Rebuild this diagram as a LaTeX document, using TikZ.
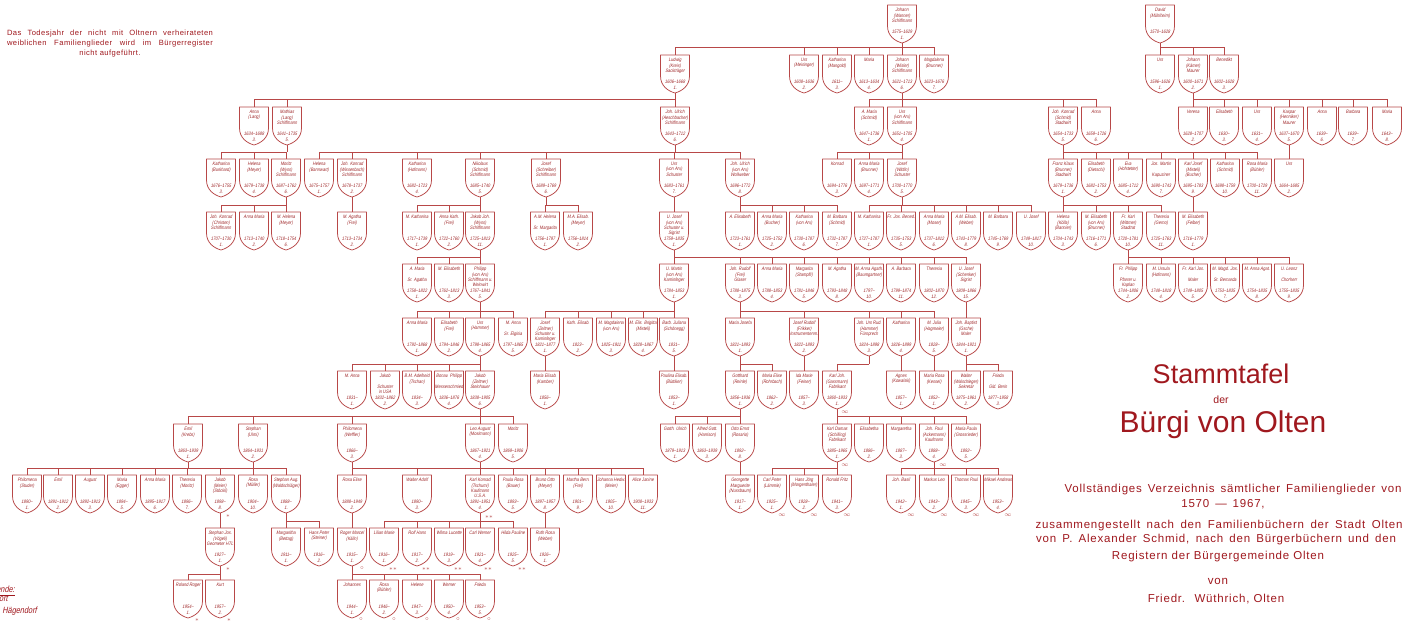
\documentclass[tikz,border=0pt]{standalone}
\usepackage{fontspec}
\setmainfont{Liberation Sans}
\newfontfamily\hand[FakeSlant=0.2,FakeStretch=0.82]{Liberation Sans}
\newfontfamily\lettered[LetterSpace=7]{Liberation Sans}
\newfontfamily\notefont[LetterSpace=6]{Liberation Sans}
\definecolor{tree}{RGB}{184,72,72}
\definecolor{ink}{RGB}{160,40,42}
\definecolor{ttlred}{RGB}{160,24,30}
\tikzset{
 shieldbox/.style={minimum width=29pt,minimum height=38pt,inner sep=0pt,outer sep=0pt,anchor=north},
 shieldline/.style={draw=tree,line width=0.75pt,line join=round},
 conn/.style={draw=tree,line width=0.75pt},
 shtext/.style={inner sep=0pt,text=ink,align=center,font=\hand\fontsize{4.9}{5.4}\selectfont},
 sym/.style={inner sep=0pt,text=tree,font=\fontsize{6}{6}\selectfont},
 body/.style={inner sep=0pt,text=ttlred,anchor=base,font=\lettered\fontsize{11.5}{12}\selectfont},
 note/.style={inner sep=0pt,text=ttlred,anchor=base,font=\notefont\fontsize{7.6}{8}\selectfont},
 legend/.style={inner sep=0pt,text=ttlred,anchor=base east,font=\hand\fontsize{9}{10}\selectfont},
}
\newcommand\shd[6]{%
 \node[shieldbox] (#1) at (#2,#3) {};
 \draw[shieldline] (#2-14.5,#3) -- (#2+14.5,#3) -- (#2+14.5,#3+21) .. controls (#2+14.5,#3+31) and (#2+7,#3+36) .. (#2,#3+38) .. controls (#2-7,#3+36) and (#2-14.5,#3+31) .. (#2-14.5,#3+21) -- cycle;
 \node[shtext,anchor=north] (#1-t) at (#2,#3+3) {#4};
 \node[shtext] (#1-d) at (#2,#3+26.5) {#5};
 \node[shtext] (#1-n) at (#2,#3+33) {#6};
}
\newcommand\kids[5]{%
 \draw[conn] (#1.south) -- (#1.south |- 0,#2);
 \draw[conn] (#3.north |- 0,#2) -- (#4.north |- 0,#2);
 \foreach \ch in {#5} {\draw[conn] (\ch.north) -- (\ch.north |- 0,#2);}
}
\newcommand\lnk[2]{\draw[conn] (#1.south) -- (#2.north);}
\begin{document}
\begin{tikzpicture}[x=1pt,y=-1pt]
\useasboundingbox (0,0) rectangle (1413,624);
\clip (0,0) rectangle (1413,624);
\fill[white] (0,0) rectangle (1413,624);
% ---------- row 0
\shd{jo0}{902}{5}{Johann\\(Wanner)\\Schiffmann}{1575–1629}{1.}
\shd{da0}{1160}{5}{David\\(Mühlheim)}{1570–1628}{}
% ---------- row 1
\shd{lu1}{675}{55}{Ludwig\\(Kreis)\\Sackträger}{1606–1668}{1.}
\shd{ur1}{804}{55}{Urs\\(Meisinger)}{1608–1636}{2.}
\shd{ka1}{837}{55}{Katharina\\(Mangold)}{1611–}{3.}
\shd{ma1}{869}{55}{Maria}{1613–1634}{4.}
\shd{jo1}{902}{55}{Johann\\(Wisler)\\Schiffmann}{1621–1713}{6.}
\shd{mg1}{934}{55}{Magdalena\\(Brunner)}{1623–1676}{7.}
\shd{urr1}{1160}{55}{Urs}{1596–1626}{1.}
\shd{jok1}{1193}{55}{Johann\\(Kämer)\\Maurer}{1600–1671}{2.}
\shd{be1}{1224}{55}{Benedikt}{1602–1628}{3.}
% ---------- row 2
\shd{an2}{254}{107}{Anna\\(Lang)}{1634–1688}{3.}
\shd{mt2}{287}{107}{Mathias\\(Lang)\\Schiffmann}{1641–1735}{5.}
\shd{ju2}{675}{107}{Joh. Ulrich\\(Aeschbacher)\\Schiffmann}{1643–1712}{6.}
\shd{am2}{869}{107}{A. Maria\\(Schmid)}{1647–1736}{1.}
\shd{ur2}{902}{107}{Urs\\(von Arx)\\Schiffmann}{1651–1705}{4.}
\shd{jk2}{1063}{107}{Joh. Konrad\\(Schmid)\\Stadtwirt}{1654–1733}{5.}
\shd{an2b}{1096}{107}{Anna}{1659–1726}{6.}
\shd{ve2}{1193}{107}{Verena}{1628–1707}{2.}
\shd{el2}{1224}{107}{Elisabeth}{1630–}{3.}
\shd{ur2b}{1257}{107}{Urs}{1631–}{4.}
\shd{ks2}{1289}{107}{Kaspar\\(Henniker)\\Maurer}{1637–1670}{5.}
\shd{an2c}{1322}{107}{Anna}{1639–}{6.}
\shd{ba2}{1353}{107}{Barbara}{1639–}{7.}
\shd{ma2}{1387}{107}{Maria}{1643–}{8.}
% ---------- row 3
\shd{ka3}{221}{159}{Katharina\\(Burkhard)}{1676–1755}{3.}
\shd{he3}{254}{159}{Helena\\(Meyer)}{1679–1738}{4.}
\shd{mo3}{286}{159}{Moritz\\(Wyss)\\Schiffmann}{1687–1762}{6.}
\shd{hb3}{319}{159}{Helena\\(Bannwart)}{1675–1757}{1.}
\shd{jk3}{352}{159}{Joh. Konrad\\(Wissenbach)\\Schiffmann}{1678–1737}{2.}
\shd{kh3}{417}{159}{Katharina\\(Hofmann)}{1682–1723}{4.}
\shd{ni3}{480}{159}{Nikolaus\\(Schmid)\\Schiffmann}{1685–1740}{5.}
\shd{js3}{546}{159}{Josef\\(Schreiber)\\Schiffmann}{1689–1769}{6.}
\shd{ua3}{674}{159}{Urs\\(von Arx)\\Schuster}{1683–1761}{7.}
\shd{ju3}{740}{159}{Joh. Ulrich\\(von Arx)\\Wollweber}{1696–1772}{8.}
\shd{ko3}{837}{159}{Konrad}{1694–1776}{3.}
\shd{am3}{869}{159}{Anna Maria\\(Brunner)}{1697–1771}{4.}
\shd{jw3}{902}{159}{Josef\\(Wittlin)\\Schuster}{1700–1770}{5.}
\shd{fk3}{1063}{159}{Franz Klaus\\(Brunner)\\Stadtwirt}{1679–1736}{1.}
\shd{ed3}{1096}{159}{Elisabeth\\(Dietschi)}{1682–1753}{2.}
\shd{ev3}{1128}{159}{Eva\\(Hofstetter)}{1685–1712}{4.}
\shd{jm3}{1161}{159}{Jos. Martin\\ \\Kapuziner}{1690–1743}{7.}
\shd{kj3}{1193}{159}{Karl Josef\\(Misteli)\\(Bucher)}{1695–1783}{9.}
\shd{ks3}{1225}{159}{Katharina\\(Schmid)}{1698–1759}{10.}
\shd{rm3}{1257}{159}{Rosa Maria\\(Bühler)}{1700–1729}{11.}
\shd{ur3}{1289}{159}{Urs}{1664–1685}{2.}
% ---------- row 4
\shd{jk4}{221}{212}{Joh. Konrad\\(Christen)\\Schiffmann}{1707–1730}{1.}
\shd{am4}{254}{212}{Anna Maria}{1713–1740}{2.}
\shd{mh4}{286}{212}{M. Helena\\(Meyer)}{1718–1754}{6.}
\shd{ma4}{352}{212}{M. Agatha\\(Frei)}{1713–1734}{2.}
\shd{mk4}{417}{212}{M. Katharina}{1717–1739}{1.}
\shd{ak4}{449}{212}{Anna Kath.\\(Frei)}{1722–1760}{2.}
\shd{jj4}{480}{212}{Jakob Joh.\\(Wyss)\\Schiffmann}{1725–1813}{11.}
\shd{ah4}{545}{212}{A.M. Helena\\ \\Sr. Margarita}{1756–1797}{1.}
\shd{me4}{578}{212}{M.A. Elisab.\\(Meyer)}{1756–1814}{2.}
\shd{uj4}{674}{212}{U. Josef\\(von Arx)\\Schuster u.\\Sigrist}{1759–1835}{1.}
\shd{ae4}{740}{212}{A. Elisabeth}{1723–1761}{1.}
\shd{an4}{772}{212}{Anna Maria\\(Bucher)}{1725–1752}{2.}
\shd{ka4}{804}{212}{Katharina\\(von Arx)}{1730–1787}{6.}
\shd{mb4}{837}{212}{M. Barbara\\(Schmid)}{1732–1787}{7.}
\shd{mk4b}{869}{212}{M. Katharina}{1727–1787}{1.}
\shd{fj4}{901}{212}{Fr. Jos. Bened.}{1735–1753}{5.}
\shd{ao4}{934}{212}{Anna Maria\\(Moser)}{1737–1812}{6.}
\shd{aw4}{966}{212}{A.M. Elisab.\\(Weber)}{1743–1779}{8.}
\shd{mb4b}{998}{212}{M. Barbara}{1745–1769}{9.}
\shd{uj4b}{1031}{212}{U. Josef}{1749–1817}{10.}
\shd{hk4}{1063}{212}{Helena\\(Kölla)\\(Bannier)}{1704–1743}{3.}
\shd{mv4}{1096}{212}{M. Elisabeth\\(von Arx)\\(Brunner)}{1716–1771}{6.}
\shd{fr4}{1128}{212}{Fr. Karl\\(Wittmer)\\Stadtrat}{1720–1781}{10.}
\shd{tg4}{1161}{212}{Theresia\\(Gerno)}{1725–1763}{11.}
\shd{mf4}{1193}{212}{M. Elisabeth\\(Felber)}{1716–1779}{1.}
% ---------- row 5
\shd{as5}{417}{264}{A. Maria\\ \\Sr. Agatha}{1758–1822}{1.}
\shd{me5}{449}{264}{M. Elisabeth}{1762–1813}{3.}
\shd{ph5}{480}{264}{Philipp\\(von Arx)\\Schiffmann u.\\Weinwirt}{1767–1841}{5.}
\shd{um5}{674}{264}{U. Martin\\(von Arx)\\Kaminfeger}{1784–1853}{1.}
\shd{jr5}{740}{264}{Joh. Rudolf\\(Frei)\\Glaser}{1788–1875}{3.}
\shd{an5}{772}{264}{Anna Maria}{1788–1853}{4.}
\shd{mst5}{804}{264}{Margarita\\(Stampfli)}{1781–1846}{5.}
\shd{mag5}{837}{264}{M. Agatha}{1793–1848}{8.}
\shd{maa5}{869}{264}{M. Anna Agath.\\(Baumgartner)}{1797–}{10.}
\shd{ab5}{901}{264}{A. Barbara}{1799–1874}{11.}
\shd{th5}{934}{264}{Theresia}{1802–1870}{12.}
\shd{ujs5}{966}{264}{U. Josef\\(Schenker)\\Sigrist}{1809–1866}{15.}
\shd{fp5}{1128}{264}{Fr. Philipp\\ \\Pfarrer u.\\Kaplan}{1744–1806}{2.}
\shd{mu5}{1161}{264}{M. Ursula\\(Hofmann)}{1748–1818}{4.}
\shd{fkj5}{1193}{264}{Fr. Karl Jos.\\ \\Maler}{1749–1805}{5.}
\shd{mmg5}{1225}{264}{M. Magd. Jos.\\ \\Sr. Bernarda}{1753–1835}{7.}
\shd{mat5}{1257}{264}{M. Anna Agat.}{1754–1835}{8.}
\shd{ul5}{1289}{264}{U. Leonz\\ \\Chorherr}{1755–1835}{9.}
% ---------- row 6
\shd{am6}{417}{318}{Anna Maria}{1792–1868}{1.}
\shd{ef6}{449}{318}{Elisabeth\\(Frei)}{1794–1846}{2.}
\shd{uh6}{480}{318}{Urs\\(Hammer)}{1798–1865}{4.}
\shd{ma6}{513}{318}{M. Anna\\ \\Sr. Elgisia}{1797–1865}{5.}
\shd{jz6}{545}{318}{Josef\\(Zeltner)\\Schuster u.\\Kaminfeger}{1821–1877}{1.}
\shd{ke6}{578}{318}{Kath. Elisab.}{1823–}{2.}
\shd{mm6}{611}{318}{M. Magdalena\\(von Arx)}{1825–1911}{3.}
\shd{mb6}{643}{318}{M. Elis. Brigitta\\(Misteli)}{1828–1867}{4.}
\shd{bj6}{674}{318}{Barb. Juliana\\(Schönegg)}{1831–}{5.}
\shd{mj6}{740}{318}{Maria Josefa}{1821–1893}{1.}
\shd{jrf6}{804}{318}{Josef Rudolf\\(Frikker)\\Instrumentenm.}{1822–1893}{2.}
\shd{jur6}{869}{318}{Joh. Urs Rud.\\(Hammer)\\Fürsprech}{1824–1898}{3.}
\shd{kt6}{901}{318}{Katharina}{1826–1899}{4.}
\shd{mjh6}{934}{318}{M. Julia\\(Hagmeier)}{1828–}{5.}
\shd{jb6}{966}{318}{Joh. Baptist\\(Gsche)\\Maler}{1844–1921}{1.}
% ---------- row 7
\shd{man7}{352}{371}{M. Anna}{1831–}{1.}
\shd{jk7}{385}{371}{Jakob\\ \\Schuster\\in USA}{1832–1862}{2.}
\shd{bma7}{417}{371}{B.M. Adelheid\\(Tschan)}{1834–}{3.}
\shd{bp7}{449}{371}{Bonav. Philipp\\ \\Messerschmied}{1836–1876}{4.}
\shd{jz7}{480}{371}{Jakob\\(Zeltner)\\Steinhauer}{1838–1905}{6.}
\shd{mek7}{545}{371}{Maria Elisab.\\(Kamber)}{1856–}{1.}
\shd{pe7}{674}{371}{Paulina Elisab.\\(Büttiker)}{1853–}{1.}
\shd{go7}{740}{371}{Gotthard\\(Reinle)}{1856–1936}{1.}
\shd{mer7}{772}{371}{Maria Elise\\(Rohrbach)}{1862–}{2.}
\shd{im7}{804}{371}{Ida Marie\\(Feiner)}{1857–}{3.}
\shd{kjg7}{837}{371}{Karl Joh.\\(Gassmann)\\Fabrikant}{1860–1933}{1.}
\shd{ag7}{901}{371}{Agnes\\(Kowalski)}{1857–}{1.}
\shd{mr7}{934}{371}{Maria Rosa\\(Kessel)}{1852–}{1.}
\shd{wa7}{966}{371}{Walter\\(Walschleger)\\Sekretär}{1875–1961}{2.}
\shd{fr7}{998}{371}{Frieda\\ \\Gld. Berin}{1877–1958}{3.}
% ---------- row 8
\shd{em8}{188}{424}{Emil\\(Krebs)}{1863–1939}{1.}
\shd{st8}{253}{424}{Stephan\\(Ulmi)}{1864–1931}{2.}
\shd{ph8}{352}{424}{Philomena\\(Weffler)}{1866–}{3.}
\shd{la8}{480}{424}{Leo August\\(Mosimann)}{1867–1921}{4.}
\shd{mo8}{513}{424}{Moritz}{1869–1906}{5.}
\shd{gu8}{675}{424}{Gotth. Ulrich}{1879–1913}{1.}
\shd{ag8}{707}{424}{Alfred Gott.\\(Harrison)}{1863–1939}{3.}
\shd{oe8}{740}{424}{Otto Ernst\\(Rosario)}{1892–}{8.}
\shd{kd8}{837}{424}{Karl Damas\\(Schilling)\\Fabrikant}{1885–1965}{1.}
\shd{eb8}{869}{424}{Elisabetha}{1886–}{2.}
\shd{mg8}{901}{424}{Margaretha}{1887–}{3.}
\shd{jp8}{934}{424}{Joh. Paul\\(Ackermann)\\Kaufmann}{1888–}{4.}
\shd{mp8}{966}{424}{Maria Paula\\(Grossrieder)}{1892–}{5.}
% ---------- row 9
\shd{ps9}{27}{475}{Philomena\\(Studer)}{1890–}{1.}
\shd{em9}{58}{475}{Emil}{1891–1912}{2.}
\shd{au9}{90}{475}{August}{1892–1913}{3.}
\shd{me9}{122}{475}{Maria\\(Egger)}{1894–}{5.}
\shd{am9}{155}{475}{Anna Maria}{1895–1917}{6.}
\shd{tm9}{187}{475}{Theresia\\(Moritz)}{1896–}{7.}
\shd{jm9}{220}{475}{Jakob\\(Meier)\\(Stöckli)}{1898–}{8.}
\shd{rm9}{253}{475}{Rosa\\(Müller)}{1904–}{10.}
\shd{sa9}{286}{475}{Stephan Aug.\\(Waldschläger)}{1888–}{1.}
\shd{re9}{352}{475}{Rosa Elise}{1888–1949}{2.}
\shd{wad9}{417}{475}{Walter Adolf}{1890–}{3.}
\shd{kk9}{480}{475}{Karl Konrad\\(Tschumi)\\Kaufmann\\U.S.A.}{1891–1951}{4.}
\shd{pr9}{513}{475}{Paula Rosa\\(Bauer)}{1893–}{5.}
\shd{bo9}{545}{475}{Bruno Otto\\(Meyer)}{1897–1957}{8.}
\shd{mb9}{578}{475}{Martha Bern.\\(Frei)}{1901–}{9.}
\shd{jh9}{611}{475}{Johanna Hedw.\\(Meier)}{1905–}{10.}
\shd{aj9}{643}{475}{Alice Janine}{1908–1933}{11.}
\shd{gm9}{740}{475}{Georgette\\Marguerite\\(Nussbaum)}{1917–}{1.}
\shd{cp9}{772}{475}{Carl Peter\\(Lämmle)}{1925–}{1.}
\shd{hj9}{804}{475}{Hans Jörg\\(Morgenthaler)}{1928–}{2.}
\shd{rf9}{837}{475}{Ronald Fritz}{1941–}{3.}
\shd{jbs9}{901}{475}{Joh. Basil}{1942–}{1.}
\shd{ml9}{934}{475}{Markus Leo}{1943–}{2.}
\shd{tp9}{966}{475}{Thomas Paul}{1945–}{3.}
\shd{mi9}{998}{475}{Mikael Andreas}{1953–}{4.}
% ---------- row 10
\shd{sj10}{220}{528}{Stephan Jos.\\(Vögeli)\\Geometer HTL}{1927–}{1.}
\shd{mb10}{286}{528}{Margaritha\\(Bettag)}{1911–}{1.}
\shd{hp10}{319}{528}{Hans Peter\\(Steiner)}{1916–}{2.}
\shd{rm10}{352}{528}{Roger Marcel\\(Kälin)}{1915–}{1.}
\shd{lm10}{384}{528}{Lilian Marie}{1916–}{1.}
\shd{rh10}{417}{528}{Rolf Hans}{1917–}{2.}
\shd{wl10}{449}{528}{Wilma Lucette}{1919–}{3.}
\shd{cw10}{480}{528}{Carl Werner}{1921–}{4.}
\shd{hpa10}{513}{528}{Hilda Pauline}{1925–}{5.}
\shd{rr10}{545}{528}{Ruth Rosa\\(Weber)}{1926–}{1.}
% ---------- row 11
\shd{rr11}{188}{580}{Roland Roger}{1954–}{1.}
\shd{ku11}{220}{580}{Kurt}{1957–}{2.}
\shd{jo11}{352}{580}{Johannes}{1944–}{1.}
\shd{ro11}{384}{580}{Rosa\\(Bühler)}{1946–}{2.}
\shd{he11}{417}{580}{Helene}{1947–}{3.}
\shd{we11}{449}{580}{Werner}{1950–}{4.}
\shd{fr11}{480}{580}{Frieda}{1953–}{5.}
% ---------- connectors
\kids{jo0}{47}{lu1}{mg1}{lu1,ur1,ka1,ma1,jo1,mg1}
\kids{da0}{47}{urr1}{be1}{urr1,jok1,be1}
\kids{lu1}{99}{an2}{ju2}{an2,mt2,ju2}
\kids{jo1}{99}{am2}{an2b}{am2,ur2,jk2,an2b}
\kids{jok1}{99}{ve2}{ma2}{ve2,el2,ur2b,ks2,an2c,ba2,ma2}
\kids{mt2}{152}{ka3}{mo3}{ka3,he3,mo3}
\kids{ju2}{152}{hb3}{ju3}{hb3,jk3,kh3,ni3,js3,ua3,ju3}
\kids{ur2}{152}{ko3}{jw3}{ko3,am3,jw3}
\kids{jk2}{152}{fk3}{rm3}{fk3,ed3,ev3,jm3,kj3,ks3,rm3}
\lnk{ks2}{ur3}
\kids{mo3}{205}{jk4}{mh4}{jk4,am4,mh4}
\lnk{jk3}{ma4}
\kids{ni3}{205}{mk4}{jj4}{mk4,ak4,jj4}
\kids{js3}{205}{ah4}{me4}{ah4,me4}
\lnk{ua3}{uj4}
\kids{ju3}{205}{ae4}{mb4}{ae4,an4,ka4,mb4}
\kids{jw3}{205}{mk4b}{uj4b}{mk4b,fj4,ao4,aw4,mb4b,uj4b}
\kids{fk3}{205}{hk4}{tg4}{hk4,mv4,fr4,tg4}
\lnk{kj3}{mf4}
\kids{jj4}{257}{as5}{ph5}{as5,me5,ph5}
\kids{uj4}{257}{um5}{ujs5}{um5,jr5,an5,mst5,mag5,maa5,ab5,th5,ujs5}
\kids{fr4}{257}{fp5}{ul5}{fp5,mu5,fkj5,mmg5,mat5,ul5}
\kids{ph5}{311}{am6}{ma6}{am6,ef6,uh6,ma6}
\kids{um5}{311}{jz6}{bj6}{jz6,ke6,mm6,mb6,bj6}
\kids{jr5}{311}{mj6}{mjh6}{mj6,jrf6,jur6,kt6,mjh6}
\lnk{ujs5}{jb6}
\kids{uh6}{364}{man7}{jz7}{man7,jk7,bma7,bp7,jz7}
\lnk{jz6}{mek7}
\lnk{bj6}{pe7}
\kids{mj6}{364}{go7}{mer7}{go7,mer7}
\lnk{jrf6}{im7}
\kids{jur6}{364}{kjg7}{jur6}{kjg7}
\lnk{kt6}{ag7}
\lnk{mjh6}{mr7}
\kids{jb6}{364}{wa7}{fr7}{wa7,fr7}
\kids{jz7}{416}{em8}{mo8}{em8,st8,ph8,la8,mo8}
\kids{go7}{416}{gu8}{oe8}{gu8,ag8,oe8}
\kids{kjg7}{416}{kd8}{mp8}{kd8,eb8,mg8,jp8,mp8}
\kids{em8}{468}{ps9}{rm9}{ps9,em9,au9,me9,am9,tm9,jm9,rm9}
\kids{st8}{468}{rm9}{sa9}{sa9}
\kids{ph8}{468}{re9}{wad9}{re9,wad9}
\kids{la8}{468}{wad9}{aj9}{kk9,pr9,bo9,mb9,jh9,aj9}
\lnk{oe8}{gm9}
\kids{kd8}{468}{cp9}{rf9}{cp9,hj9,rf9}
\kids{jp8}{468}{jbs9}{mi9}{jbs9,ml9,tp9,mi9}
\lnk{jm9}{sj10}
\kids{sa9}{521}{mb10}{hp10}{mb10,hp10}
\lnk{re9}{rm10}
\kids{kk9}{521}{lm10}{hpa10}{lm10,rh10,wl10,cw10,hpa10}
\lnk{bo9}{rr10}
\kids{sj10}{574}{rr11}{ku11}{rr11,ku11}
\kids{rm10}{574}{jo11}{fr11}{jo11,ro11,he11,we11,fr11}
% ---------- small signs
\node[sym] (s1) at (845,412) {$\infty$};
\node[sym] (s2) at (845,465) {$\infty$};
\node[sym] (s3) at (943,465) {$\infty$};
\node[sym] (s4) at (782,515) {$\infty$};
\node[sym] (s5) at (814,515) {$\infty$};
\node[sym] (s6) at (847,515) {$\infty$};
\node[sym] (s7) at (911,515) {$\infty$};
\node[sym] (s8) at (944,515) {$\infty$};
\node[sym] (s9) at (976,515) {$\infty$};
\node[sym] (s10) at (1008,515) {$\infty$};
\node[sym] (s11) at (228,516) {$\ast$};
\node[sym] (s12) at (228,569) {$\ast$};
\node[sym] (s13) at (197,620) {$\ast$};
\node[sym] (s14) at (229,620) {$\ast$};
\node[sym] (s15) at (489,517) {$\ast\ast$};
\node[sym] (s16) at (393,569) {$\ast\ast$};
\node[sym] (s17) at (426,569) {$\ast\ast$};
\node[sym] (s18) at (458,569) {$\ast\ast$};
\node[sym] (s19) at (488,569) {$\ast\ast$};
\node[sym] (s20) at (522,569) {$\ast\ast$};
\node[sym] (s21) at (362,568) {$\circ$};
\node[sym] (s22) at (361,619) {$\circ$};
\node[sym] (s23) at (394,619) {$\circ$};
\node[sym] (s24) at (427,619) {$\circ$};
\node[sym] (s25) at (458,619) {$\circ$};
\node[sym] (s26) at (489,619) {$\circ$};
% ---------- notes and title
\node[note] (n1) at (110,35) {\makebox[206pt][s]{Das Todesjahr der nicht mit Oltnern verheirateten}};
\node[note] (n2) at (110,45) {\makebox[206pt][s]{weiblichen Familienglieder wird im Bürgerregister}};
\node[note] (n3) at (110,55) {nicht aufgeführt.};
\node[legend] (lg1) at (15,592) {\underline{Legende:}};
\node[legend] (lg2) at (8,601) {Wohnort};
\node[legend] (lg3) at (37,613) {Hägendorf};
\node[inner sep=0pt,anchor=base,text=ttlred,font=\fontsize{27}{30}\selectfont] (t1) at (1221,383) {Stammtafel};
\node[inner sep=0pt,anchor=base,text=ttlred,font=\fontsize{10.5}{12}\selectfont] (t2) at (1221,403) {der};
\node[inner sep=0pt,anchor=base,text=ttlred,font=\fontsize{30}{33}\selectfont] (t3) at (1223,432) {Bürgi von Olten};
\node[body] (b1) at (1233,492) {\makebox[337pt][s]{Vollständiges Verzeichnis sämtlicher Familienglieder von}};
\node[body] (b2) at (1223,507) {1570 \,—\, 1967,};
\node[body] (b3) at (1219,528) {\makebox[367pt][s]{zusammengestellt nach den Familienbüchern der Stadt Olten}};
\node[body] (b4) at (1216,542) {\makebox[360pt][s]{von P. Alexander Schmid, nach den Bürgerbüchern und den}};
\node[body] (b5) at (1218,559) {Registern der Bürgergemeinde Olten};
\node[body] (b6) at (1218,584) {von};
\node[body] (b7) at (1216,602) {Friedr.~ Wüthrich, Olten};
\end{tikzpicture}
\end{document}
